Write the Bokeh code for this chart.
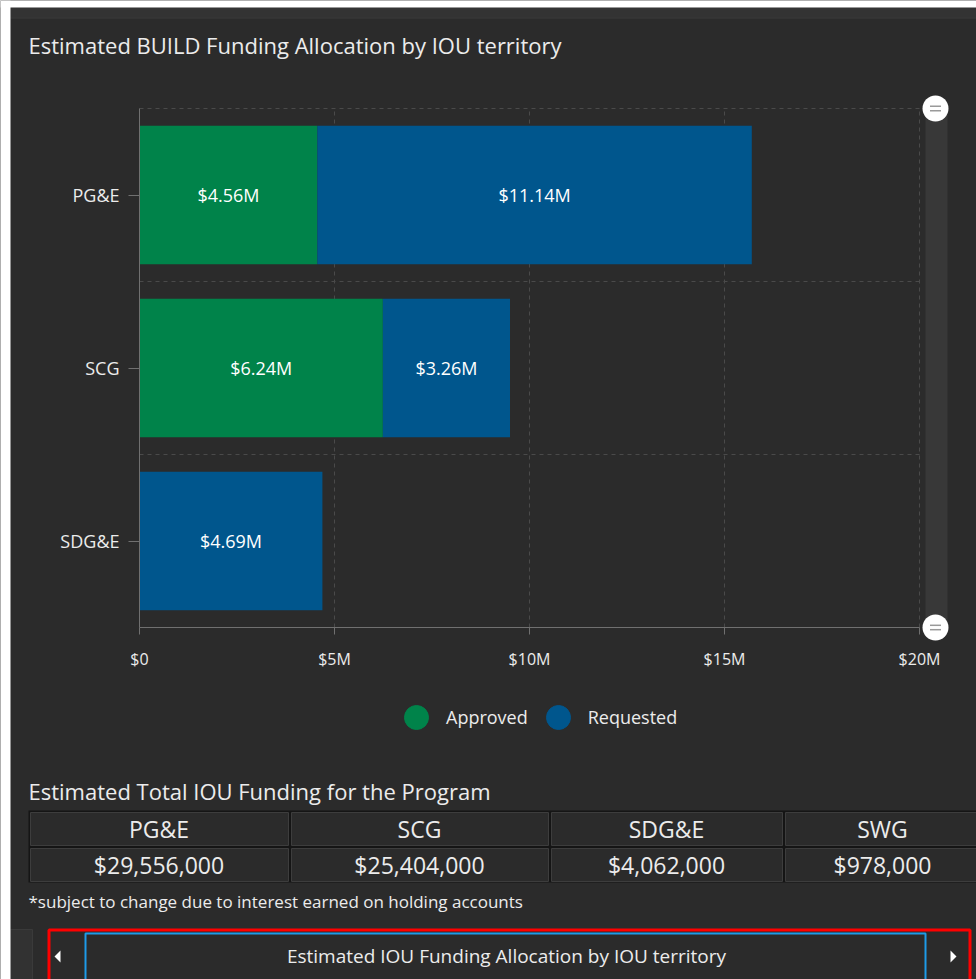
from bokeh.plotting import figure
from bokeh.models import Range1d, FixedTicker, ColumnDataSource, Legend, LegendItem
from bokeh.embed import file_html
from bokeh.resources import INLINE
from bokeh.core.properties import value

# ---------------- data ----------------
chart_title = "Estimated BUILD Funding Allocation by IOU territory"
categories = ["PG&E", "SCG", "SDG&E"]
approved = [4.56, 6.24, 0.0]       # $ millions
requested = [11.14, 3.26, 4.69]    # $ millions
series = ["Approved", "Requested"]
x_ticks = [0, 5, 10, 15, 20]
x_tick_labels = ["$0", "$5M", "$10M", "$15M", "$20M"]

table_title = "Estimated Total IOU Funding for the Program"
table_headers = ["PG&E", "SCG", "SDG&E", "SWG"]
table_values = ["$29,556,000", "$25,404,000", "$4,062,000", "$978,000"]
footnote = "*subject to change due to interest earned on holding accounts"
nav_label = "Estimated IOU Funding Allocation by IOU territory"

# ---------------- style / layout ----------------
FONT = "Open Sans"
BG = "#2b2b2b"
GREEN = "#00834a"
BLUE = "#00568d"
TXT = "#ececec"
GRID = "#4a4a4a"
AXIS = "#707070"

W, H = 976, 979
X0 = 139.0        # page x of $0
PXM = 39.0        # page pixels per $1M
YC = 194.5        # page y of the first (top) category centre
PXU = 173.0       # page pixels per category step

n = len(categories)
ypos = [n - 1 - i for i in range(n)]

p = figure(width=W, height=H, title=None,
           x_range=Range1d(-X0 / PXM, (W - X0) / PXM),
           y_range=Range1d((n - 1) - (H - YC) / PXU, (n - 1) + YC / PXU),
           toolbar_location=None, output_backend="svg", min_border=0,
           background_fill_color=BG, border_fill_color=BG, outline_line_color=None)
p.grid.visible = False
# page-pixel ranges for the surrounding dashboard decoration
p.extra_x_ranges = {"px": Range1d(0, W)}
p.extra_y_ranges = {"py": Range1d(H, 0)}
PXY = dict(x_range_name="px", y_range_name="py")

# ---- dashed grid, bounded to the data area ----
vx = x_ticks[1:]
p.segment(x0=vx, y0=[-0.5] * len(vx), x1=vx, y1=[n - 0.5] * len(vx),
          line_color=GRID, line_dash="4 4", line_width=1)
hy = [k + 0.5 for k in range(n)]
p.segment(x0=[x_ticks[0]] * len(hy), y0=hy, x1=[x_ticks[-1]] * len(hy), y1=hy,
          line_color=GRID, line_dash="4 4", line_width=1)

# ---- bars ----
src = ColumnDataSource(dict(y=ypos, approved=approved, requested=requested))
p.hbar_stack(["approved", "requested"], y="y", height=0.8, color=[GREEN, BLUE],
             source=src, line_color=None)

lx, ly, lt = [], [], []
for i in range(n):
    left = 0.0
    for v in (approved[i], requested[i]):
        if v > 0:
            lx.append(left + v / 2)
            ly.append(ypos[i])
            lt.append(f"${v:.2f}M")
        left += v
p.text(x=lx, y=ly, text=lt, text_align="center", text_baseline="middle",
       text_color="white", text_font=value(FONT), text_font_size="18px")

# ---- axes (fixed inside the frame, at the data-area edges) ----
xa = p.xaxis[0]
xa.fixed_location = -0.5
xa.ticker = FixedTicker(ticks=x_ticks)
xa.major_label_overrides = {t: l for t, l in zip(x_ticks, x_tick_labels)}
xa.bounds = (x_ticks[0], x_ticks[-1])
xa.axis_line_color = AXIS
xa.major_tick_line_color = AXIS
xa.major_tick_out = 7
xa.major_tick_in = 0
xa.minor_tick_line_color = None
xa.major_label_text_color = TXT
xa.major_label_text_font = FONT
xa.major_label_text_font_size = "16px"
xa.major_label_standoff = 13

ya = p.yaxis[0]
ya.fixed_location = 0
ya.ticker = FixedTicker(ticks=ypos)
ya.major_label_overrides = {y: c for y, c in zip(ypos, categories)}
ya.bounds = (-0.5, n - 0.5)
ya.axis_line_color = AXIS
ya.major_tick_line_color = AXIS
ya.major_tick_out = 11
ya.major_tick_in = 0
ya.minor_tick_line_color = None
ya.major_label_text_color = TXT
ya.major_label_text_font = FONT
ya.major_label_text_font_size = "18px"
ya.major_label_standoff = 9

# ---- scroll bar (decoration, anchored to the category-axis ends) ----
sb_l, sb_r, sb_c = (925 - X0) / PXM, (947 - X0) / PXM, (935 - X0) / PXM
p.quad(left=[sb_l], right=[sb_r], bottom=[-0.5], top=[n - 0.5], fill_color="#383838", line_color=None)
p.scatter(x=[sb_c, sb_c], y=[n - 0.5, -0.5], size=26, fill_color="white", line_color=None)
d = 2.2 / PXU
p.scatter(x=[sb_c] * 4, y=[n - 0.5 - d, n - 0.5 + d, -0.5 - d, -0.5 + d], marker="dash",
          size=11, line_color="#9a9a9a", line_width=1.5)

# ---- legend (circle swatches) ----
ra = p.scatter(x="approved", y="y", source=src, size=0, color=GREEN)
rb = p.scatter(x="requested", y="y", source=src, size=0, color=BLUE)
legend = Legend(items=[LegendItem(label=series[0], renderers=[ra]),
                       LegendItem(label=series[1], renderers=[rb])],
                orientation="horizontal", location=(386, H - 747),
                glyph_width=60, glyph_height=60, label_standoff=0, spacing=0,
                padding=0, margin=0, border_line_color=None, background_fill_alpha=0,
                label_text_color=TXT, label_text_font=FONT, label_text_font_size="18px")
p.add_layout(legend)

# ---- dashboard frame ----
p.quad(left=[10], right=[W], top=[7], bottom=[17], fill_color="#333333", line_color=None, **PXY)
p.segment(x0=[10], y0=[17.5], x1=[W], y1=[17.5], line_color="#3c3c3c", line_width=1, **PXY)

p.text(x=[28], y=[44], text=[chart_title], text_align="left", text_baseline="middle",
       text_color=TXT, text_font=value(FONT), text_font_size="22px", **PXY)

# ---- table ----
p.text(x=[28], y=[790], text=[table_title], text_align="left", text_baseline="middle",
       text_color=TXT, text_font=value(FONT), text_font_size="22px", **PXY)

col_edges = [28, 289, 549, 783, 990]
row_edges = [810, 846, 882]
p.quad(left=[col_edges[0]], right=[col_edges[-1]], top=[row_edges[0]], bottom=[row_edges[-1]],
       fill_color="#151515", line_color=None, **PXY)
cl, cr, ct, cb, tx, ty, tt = [], [], [], [], [], [], []
for r, row in enumerate([table_headers, table_values]):
    for c, label in enumerate(row):
        cl.append(col_edges[c] + 2)
        cr.append(col_edges[c + 1] - 1)
        ct.append(row_edges[r] + 2)
        cb.append(row_edges[r + 1] - 1)
        tx.append((col_edges[c] + min(col_edges[c + 1], 981)) / 2)
        ty.append((row_edges[r] + row_edges[r + 1]) / 2)
        tt.append(label)
p.quad(left=cl, right=cr, top=ct, bottom=cb, fill_color=BG, line_color="#3d3d3d", line_width=1, **PXY)
p.text(x=tx, y=ty, text=tt, text_align="center", text_baseline="middle",
       text_color=TXT, text_font=value(FONT), text_font_size="23px", **PXY)

p.text(x=[28], y=[901], text=[footnote], text_align="left", text_baseline="middle",
       text_color=TXT, text_font=value(FONT), text_font_size="17px", **PXY)

# ---- navigation bar ----
p.quad(left=[10], right=[32], top=[929], bottom=[H + 5], fill_color="#323232", line_color="#3a3a3a", **PXY)
p.quad(left=[48.5], right=[969.5], top=[929.5], bottom=[H + 10], fill_color=None,
       line_color="#ff0000", line_width=3, **PXY)
p.quad(left=[85], right=[925], top=[933], bottom=[H + 10], fill_color=None,
       line_color="#1e9be8", line_width=2, **PXY)
p.patches(xs=[[54, 60, 60], [956, 950, 950]], ys=[[956, 950, 962], [956, 950, 962]],
          fill_color="white", line_color=None, **PXY)
p.text(x=[506], y=[955], text=[nav_label], text_align="center", text_baseline="middle",
       text_color=TXT, text_font=value(FONT), text_font_size="19px", **PXY)

# white page margin (top and left)
p.quad(left=[0], right=[10], top=[0], bottom=[H], fill_color="white", line_color=None, **PXY)
p.quad(left=[0], right=[W], top=[0], bottom=[7], fill_color="white", line_color=None, **PXY)

open("out.html", "w").write(file_html(p, INLINE, "chart"))
